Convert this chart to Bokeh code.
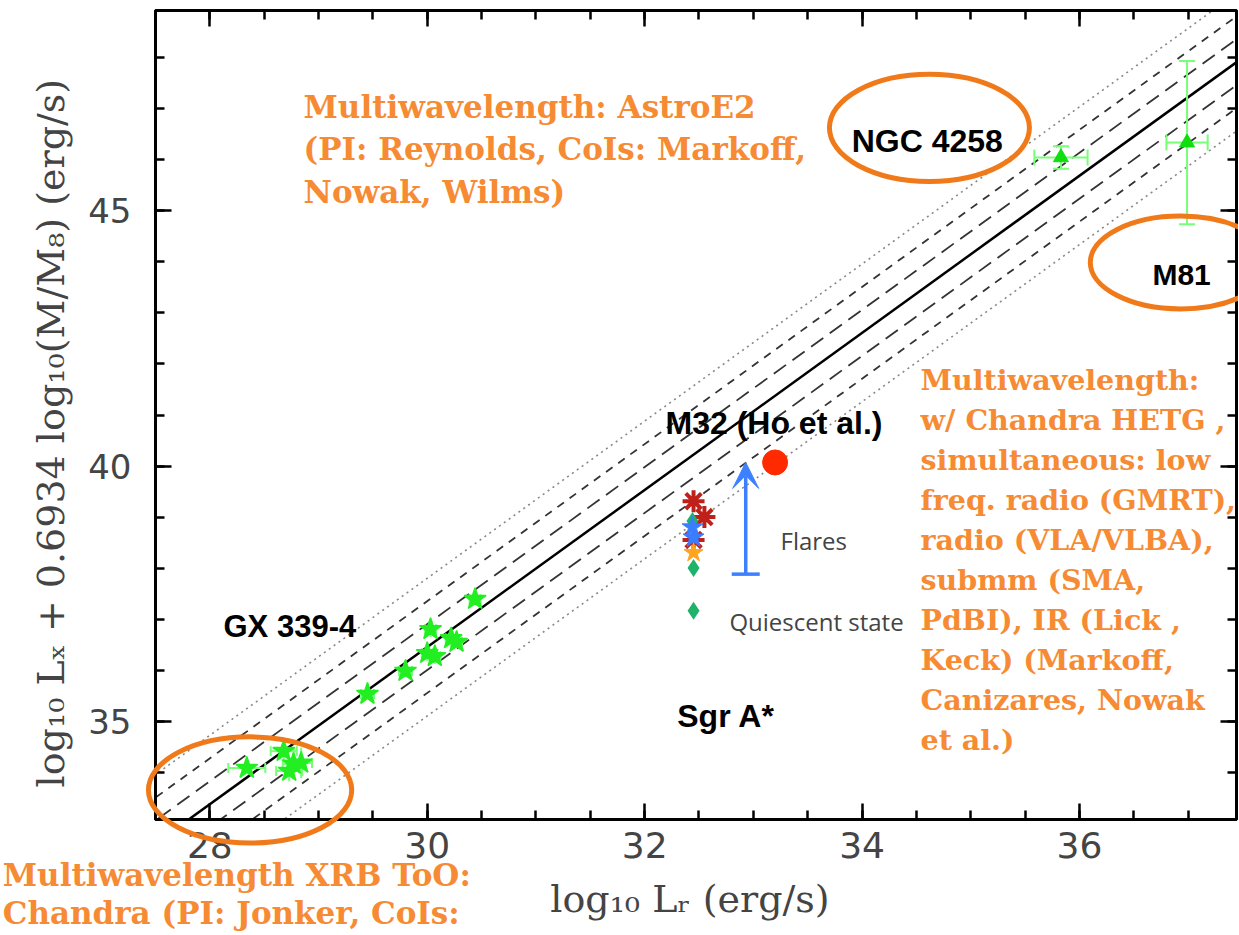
import numpy as np
from bokeh.plotting import figure
from bokeh.models import (Range1d, LinearAxis, Label, Arrow, VeeHead, SingleIntervalTicker)
from bokeh.core.properties import value
from bokeh.embed import file_html
from bokeh.resources import INLINE

# ---------------- data ----------------
# GX 339-4 (X-ray binary) points
gx_lr = [30.44, 30.03, 30.22, 30.27, 30.00, 30.07, 29.80, 29.45, 28.68, 28.77, 28.84, 28.73, 28.34]
gx_lx = [37.39, 36.80, 36.62, 36.55, 36.33, 36.27, 35.98, 35.53, 34.41, 34.16, 34.18, 34.02, 34.08]
gx_lr_err = [0.05, 0.05, 0.05, 0.05, 0.05, 0.05, 0.06, 0.06, 0.12, 0.10, 0.10, 0.12, 0.17]
gx_lx_err = [0.08, 0.15, 0.15, 0.10, 0.15, 0.15, 0.12, 0.10, 0.20, 0.30, 0.30, 0.20, 0.05]

# AGN points (NGC 4258, M81)
agn_names = ["NGC 4258", "M81"]
agn_lr = [35.83, 36.99]
agn_lx = [46.05, 46.34]
agn_lr_err = [0.245, 0.19]
agn_lx_err = [0.22, 1.60]

# Sgr A* points
sgr_red_lr = [32.45, 32.55, 32.45]
sgr_red_lx = [39.31, 39.00, 38.55]
sgr_blue_lr = [32.44, 32.45]
sgr_blue_lx = [38.80, 38.60]
sgr_green_lr = [32.44, 32.45]
sgr_green_lx = [38.92, 38.00]
sgr_orange_lr = [32.45]
sgr_orange_lx = [38.30]
quiescent_lr = [32.45]
quiescent_lx = [37.16]
flare_lr = 32.93
flare_low = 37.88
flare_high = 40.07

# M32 (Ho et al.)
m32_lr = [33.20]
m32_lx = [40.07]

# fundamental-plane relation and scatter bands
fp_slope = 1.54
fp_pivot_x = 30.0
fp_pivot_y = 36.45
band_offsets = [0.45, 0.90, 1.35]

x_ticks_interval = 2
y_ticks_interval = 5

# highlighted regions (centre x, centre y, width, height) in data units
ring_cx = [34.62, 36.93, 28.37]
ring_cy = [46.63, 43.99, 33.65]
ring_w = [1.84, 1.66, 1.87]
ring_h = [2.10, 1.82, 2.08]

# ---------------- figure ----------------
XR = (27.5, 37.445)
YR = (33.07, 48.93)
p = figure(frame_width=1081, frame_height=809,
           x_range=Range1d(*XR), y_range=Range1d(*YR),
           output_backend="svg", toolbar_location=None,
           min_border_left=155, min_border_top=10, min_border_right=2, min_border_bottom=116,
           background_fill_color="white", border_fill_color="white")
p.grid.visible = False
p.outline_line_color = "black"
p.outline_line_width = 3

xt = SingleIntervalTicker(interval=x_ticks_interval, num_minor_ticks=4)
yt = SingleIntervalTicker(interval=y_ticks_interval, num_minor_ticks=5)

def style_axis(ax):
    ax.axis_line_width = 3
    ax.major_tick_line_width = 2.5
    ax.minor_tick_line_width = 2.5
    ax.major_tick_in = 16
    ax.major_tick_out = 0
    ax.minor_tick_in = 9
    ax.minor_tick_out = 0

p.xaxis.ticker = xt
p.yaxis.ticker = yt
style_axis(p.xaxis[0])
style_axis(p.yaxis[0])
p.xaxis.major_label_text_font = "DejaVu Sans"
p.xaxis.major_label_text_font_size = "36px"
p.xaxis.major_label_standoff = 12
p.yaxis.major_label_text_font = "DejaVu Sans"
p.yaxis.major_label_text_font_size = "34px"
p.yaxis.major_label_standoff = 24
p.yaxis.major_label_orientation = "horizontal"
p.xaxis.axis_label = "log\u2081\u2080 L\u1d63  (erg/s)"
p.yaxis.axis_label = "log\u2081\u2080 L\u2093  +  0.6934 log\u2081\u2080(M/M\u2088)  (erg/s)"
for ax in (p.xaxis[0], p.yaxis[0]):
    ax.axis_label_text_font = "DejaVu Serif"
    ax.axis_label_text_font_style = "normal"
p.xaxis.axis_label_text_font_size = "38px"
p.yaxis.axis_label_text_font_size = "38px"
p.xaxis.axis_label_standoff = 16
p.yaxis.axis_label_standoff = 12

top = LinearAxis(ticker=xt, major_label_overrides={v: "" for v in range(26, 40, 2)},
                 major_label_standoff=0, major_label_text_font_size="10px")
style_axis(top)
p.add_layout(top, "above")
right = LinearAxis(ticker=yt, major_label_overrides={v: "" for v in range(30, 55, 5)},
                   major_label_standoff=0, major_label_text_font_size="10px")
style_axis(right)
p.add_layout(right, "right")

# ---------------- relation lines ----------------
xl = np.array([XR[0] - 1, XR[1] + 1])
yl = fp_pivot_y + fp_slope * (xl - fp_pivot_x)
p.line(xl, yl, line_color="black", line_width=2.5)
styles = [("#333333", "15 8", 1.8), ("#333333", "8 7", 1.8), ("#888888", "2 4", 1.6)]
for off, (col, dash, lw) in zip(band_offsets, styles):
    for s in (1, -1):
        p.line(xl, yl + s * off, line_color=col, line_dash=dash, line_width=lw)

# ---------------- error bars ----------------
ecol = "#77ff77"
gx_lr_a = np.array(gx_lr); gx_lx_a = np.array(gx_lx)
gx_xe = np.array(gx_lr_err); gx_ye = np.array(gx_lx_err)
p.segment(gx_lr_a - gx_xe, gx_lx_a, gx_lr_a + gx_xe, gx_lx_a, line_color=ecol, line_width=2)
p.segment(gx_lr_a, gx_lx_a - gx_ye, gx_lr_a, gx_lx_a + gx_ye, line_color=ecol, line_width=2)
p.scatter(np.r_[gx_lr_a - gx_xe, gx_lr_a + gx_xe], np.r_[gx_lx_a, gx_lx_a],
          marker="dash", angle=np.pi / 2, size=10, line_color=ecol, line_width=2)

ag_x = np.array(agn_lr); ag_y = np.array(agn_lx)
ag_xe = np.array(agn_lr_err); ag_ye = np.array(agn_lx_err)
p.segment(ag_x - ag_xe, ag_y, ag_x + ag_xe, ag_y, line_color=ecol, line_width=2)
p.segment(ag_x, ag_y - ag_ye, ag_x, ag_y + ag_ye, line_color=ecol, line_width=2)
p.scatter(np.r_[ag_x - ag_xe, ag_x + ag_xe], np.r_[ag_y, ag_y], marker="dash", angle=np.pi / 2,
          size=16, line_color=ecol, line_width=2)
p.scatter(np.r_[ag_x, ag_x], np.r_[ag_y - ag_ye, ag_y + ag_ye], marker="dash",
          size=16, line_color=ecol, line_width=2)

# ---------------- markers ----------------
p.scatter(gx_lr, gx_lx, marker="star", size=23, fill_color="#22ee22", line_color="#22ee22", line_width=1.5)
p.scatter(agn_lr, agn_lx, marker="triangle", size=15, fill_color="#11dd11", line_color="#11dd11")

p.scatter(sgr_red_lr, sgr_red_lx, marker="asterisk", size=22, line_color="#c0201a", line_width=4)
p.scatter(sgr_green_lr[:1], sgr_green_lx[:1], marker="diamond", size=18, fill_color="#1fb26b", line_color=None)
p.scatter(sgr_blue_lr, sgr_blue_lx, marker="star", size=22, fill_color="#3a7dff", line_color="#3a7dff")
p.scatter(sgr_orange_lr, sgr_orange_lx, marker="star", size=20, fill_color="#ffa41f", line_color="#ffa41f")
p.scatter(sgr_green_lr[1:], sgr_green_lx[1:], marker="diamond", size=18, fill_color="#1fb26b", line_color=None)
p.scatter(quiescent_lr, quiescent_lx, marker="diamond", size=18, fill_color="#1fb26b", line_color=None)

blue = "#3d80ff"
p.add_layout(Arrow(end=VeeHead(size=26, fill_color=blue, line_color=blue),
                   x_start=flare_lr, y_start=flare_low, x_end=flare_lr, y_end=flare_high,
                   line_color=blue, line_width=3.5))
p.scatter([flare_lr], [flare_low], marker="dash", size=28, line_color=blue, line_width=3.5)

p.scatter(m32_lr, m32_lx, marker="circle", size=25, fill_color="#ff2a00", line_color="#ff2a00")

# ---------------- rings (drawn above the frame so that they are not cut) ----------------
orange_ring = "#f07a1a"
p.ellipse(ring_cx, ring_cy, width=ring_w, height=ring_h, fill_color=None,
          line_color=orange_ring, line_width=5, level="overlay")

# ---------------- labels ----------------
def lab(x, y, text, size, font="Liberation Sans", style="bold", color="black", align="center"):
    p.add_layout(Label(x=x, y=y, text=text, text_font=font, text_font_size=size,
                       text_font_style=style, text_color=color, text_align=align,
                       text_baseline="alphabetic"))

lab(34.60, 46.37, "NGC 4258", "32px")
lab(36.94, 43.76, "M81", "30px")
lab(33.19, 40.85, "M32 (Ho et al.)", "32px")
lab(28.736, 36.86, "GX 339-4", "31px")
lab(32.75, 35.10, "Sgr A*", "32px")
lab(33.25, 38.53, "Flares", "24px", font="Open Sans", style="normal", color="#444444", align="left")
lab(32.78, 36.96, "Quiescent state", "24px", font="Open Sans", style="normal", color="#444444", align="left")

orange = "#f68b34"
top_lines = ["Multiwavelength: AstroE2", "(PI: Reynolds, CoIs: Markoff,", "Nowak, Wilms)"]
for i, s in enumerate(top_lines):
    lab(28.862, 47.03 - 0.825 * i, s, "31px", font="DejaVu Serif", color=orange, align="left")

right_lines = ["Multiwavelength:", "w/ Chandra HETG ,", "simultaneous: low", "freq. radio (GMRT),",
               "radio (VLA/VLBA),", "submm (SMA,", "PdBI), IR (Lick ,", "Keck) (Markoff,",
               "Canizares, Nowak", "et al.)"]
for i, s in enumerate(right_lines):
    lab(34.538, 41.68 - 0.784 * i, s, "28.5px", font="DejaVu Serif", color=orange, align="left")

bottom_lines = ["Multiwavelength XRB ToO:", "Chandra (PI: Jonker, CoIs:"]
p.text(x=[26.095, 26.095], y=[31.98, 31.235], text=bottom_lines, text_font=value("DejaVu Serif"),
       text_font_size="31px", text_font_style="bold", text_color=orange, text_align="left",
       text_baseline="alphabetic", level="overlay")

open("out.html", "w").write(file_html(p, INLINE))
